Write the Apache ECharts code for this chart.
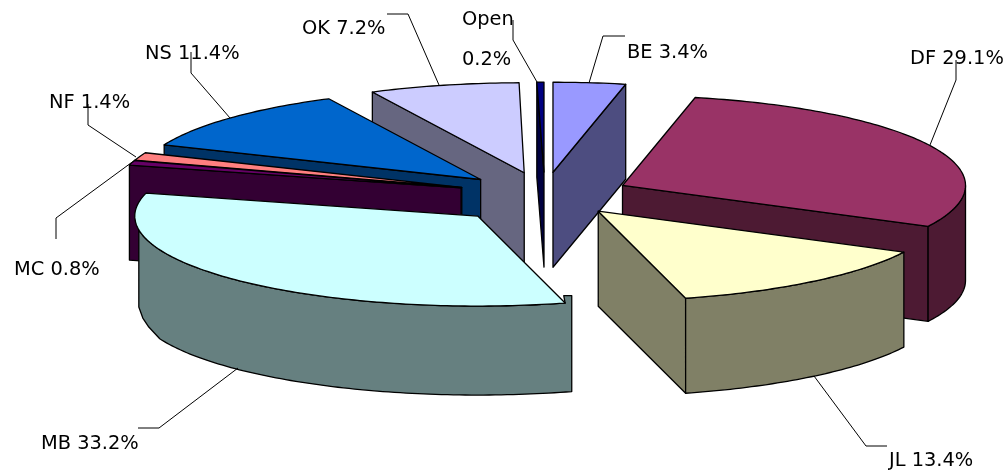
<!DOCTYPE html>
<html>
<head>
<meta charset="utf-8">
<style>html,body{margin:0;padding:0;background:#fff}#c{width:1008px;height:470px}</style>
<script src="https://cdn.jsdelivr.net/npm/echarts@6/dist/echarts.min.js"></script>
</head>
<body>
<div id="c"></div>
<script>
// ---- data ----
var categories = ['BE', 'DF', 'JL', 'MB', 'MC', 'NF', 'NS', 'OK', 'Open'];
var shares = [3.4, 29.1, 13.4, 33.2, 0.8, 1.4, 11.4, 7.2, 0.2];

// ---- style ----
var topColors = ['#9999FF', '#993366', '#FFFFCC', '#CCFFFF', '#660066', '#FF8080', '#0066CC', '#CCCCFF', '#000080'];
var wallColors = ['#4D4D80', '#4D1A33', '#808066', '#668080', '#330033', '#804040', '#003366', '#666680', '#000040'];
var drawOrder = [7, 6, 5, 4, 8, 0, 1, 2, 3];

// ---- layout ----
var RX = 343, RY = 90, DEPTH = 95;
var CX = 543, CY = 195.5, EXPLODE_X = 88, EXPLODE_Y = 23.4;
var apexNudge = [[0.6, 0], [0, 0], [0, -2.5], [-3, 4], [2.6, -1], [1.4, 0], [1.8, 0], [1.5, 0], [1, 0]];
// the printed shares add up to 100.1; the last two slices absorb the rounding on the circle
var angleTrim = [[0, 0], [0, 0], [0, 0], [0, 0], [0, 0], [0, 0], [0, 0], [0, -0.5], [-0.84, 0]];
var labelAt = [[627, 52.5], [910, 58.5], [889, 461], [41, 444], [14, 270], [49, 103], [145, 53.5], [302, 28.5], [462, 20]];
var leaders = [
  [[625, 36], [603, 36], [589, 83]],
  [[956, 60], [956, 80], [930, 145]],
  [[814, 376], [866, 446], [887, 446]],
  [[238, 368], [159, 428], [138, 428]],
  [[135, 160], [56, 218], [56, 239]],
  [[88, 104], [88, 125], [136, 157]],
  [[191, 52], [191, 73], [230, 118]],
  [[387, 14], [408, 14], [439, 85]],
  [[513, 20], [513, 40], [537, 82]]
];
var FONT = '19.4px "DejaVu Sans", Verdana, sans-serif';
var rad = Math.PI / 180;
var starts = [], acc = 0;
shares.forEach(function (v) { starts.push(acc / 100 * 360); acc += v; });

function rim(apex, deg, drop) {
  return [apex[0] + RX * Math.sin(deg * rad), apex[1] - RY * Math.cos(deg * rad) + (drop || 0)];
}
function arc(apex, a, b, drop) {
  var pts = [], n = Math.max(2, Math.ceil(Math.abs(b - a))), i;
  for (i = 0; i <= n; i++) pts.push(rim(apex, a + (b - a) * i / n, drop));
  return pts;
}
function poly(points, fill) {
  return { type: 'polygon', shape: { points: points }, style: { fill: fill, stroke: '#000', lineWidth: 1.3, lineJoin: 'round' } };
}

function renderItem(params, api) {
  var i = api.value(0);
  var a0 = starts[i], a1 = a0 + shares[i] / 100 * 360, mid = (a0 + a1) / 2;
  a0 += angleTrim[i][0];
  a1 = Math.min(a1 + angleTrim[i][1], 360);
  var apex = [
    CX + EXPLODE_X * Math.sin(mid * rad) + apexNudge[i][0],
    CY - EXPLODE_Y * Math.cos(mid * rad) + apexNudge[i][1]
  ];
  var kids = [], wall = wallColors[i];
  var apexLow = [apex[0], apex[1] + DEPTH];
  // radial cut faces that turn toward the viewer
  if (Math.sin(a0 * rad) < 0) kids.push(poly([apex, rim(apex, a0), rim(apex, a0, DEPTH), apexLow], wall));
  if (Math.sin(a1 * rad) > 0.001) kids.push(poly([apex, rim(apex, a1), rim(apex, a1, DEPTH), apexLow], wall));
  // outer rim wall
  var w0 = Math.max(a0, 90), w1 = Math.min(a1, 270);
  if (w1 > w0) {
    if (categories[i] === 'MB') {
      var low = 89, edge = rim(apex, 261.2);
      var right = rim(apex, 164.1, low);
      var pts = arc(apex, w0, 261.2, 0);
      pts.push([edge[0], apex[1] + 91]);
      pts.push([edge[0] + 4, apex[1] + 102]);
      pts.push([edge[0] + 10, apex[1] + 111]);
      pts = pts.concat(arc(apex, 248, 164.1, low));
      pts.push([right[0], right[1] - 96]);
      pts.push([right[0] - 8, right[1] - 96]);
      kids.push(poly(pts, wall));
    } else {
      kids.push(poly(arc(apex, w0, w1, 0).concat(arc(apex, w1, w0, DEPTH)), wall));
    }
  }
  // top face
  kids.push(poly([apex].concat(arc(apex, a0, a1, 0)), topColors[i]));
  return { type: 'group', children: kids };
}

function renderLabels(params, api) {
  var i = api.value(0), name = categories[i], txt = shares[i].toFixed(1) + '%';
  var kids = [{
    type: 'polyline', shape: { points: leaders[i] },
    style: { fill: null, stroke: '#000', lineWidth: 1 }
  }];
  function t(s, x, y) {
    kids.push({ type: 'text', style: { text: s, x: x, y: y, font: FONT, fill: '#000', align: 'left', verticalAlign: 'middle' } });
  }
  if (name === 'Open') {
    t(name, labelAt[i][0], labelAt[i][1]);
    t(txt, labelAt[i][0], labelAt[i][1] + 40);
  } else {
    t(name + ' ' + txt, labelAt[i][0], labelAt[i][1]);
  }
  return { type: 'group', children: kids };
}

var chart = echarts.init(document.getElementById('c'), null, { renderer: 'canvas' });
chart.setOption({
  animation: false,
  backgroundColor: '#fff',
  series: [
    { type: 'custom', coordinateSystem: 'none', silent: true, renderItem: renderItem,
      data: drawOrder.map(function (i) { return [i, shares[i]]; }), z: 2 },
    { type: 'custom', coordinateSystem: 'none', silent: true, renderItem: renderLabels,
      data: categories.map(function (c, i) { return [i, shares[i]]; }), z: 3 }
  ]
});
</script>
</body>
</html>
